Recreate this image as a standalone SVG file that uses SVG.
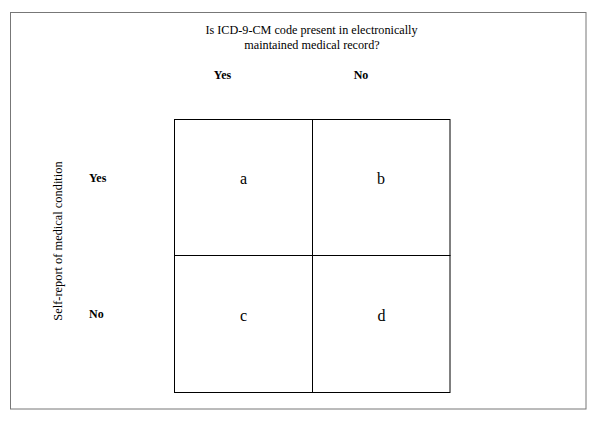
<svg xmlns="http://www.w3.org/2000/svg" width="600" height="425" viewBox="0 0 600 425">
<style>
text{font-family:'Liberation Serif','Times New Roman',Times,serif;font-size:12px;fill:#000}
.b{font-weight:bold}
.c{text-anchor:middle}
.L{font-size:16px}
.cell{fill:none;stroke:#000;stroke-width:1}
</style>
<rect width="600" height="425" fill="#fff"/>
<rect x="10.5" y="12.5" width="575.5" height="396.5" fill="none" stroke="#777" stroke-width="1"/>
<g id="header">
<text class="c" x="311.5" y="34" style="font-size:12.2px">Is ICD-9-CM code present in electronically</text>
<text class="c" x="312" y="49" style="font-size:12.2px">maintained medical record?</text>
<text class="b c" x="222.5" y="79">Yes</text>
<text class="b c" x="361" y="79">No</text>
</g>
<g id="side">
<text class="c" transform="translate(62,241) rotate(-90)" style="font-size:12.4px">Self-report of medical condition</text>
<text class="b" x="89" y="181.5">Yes</text>
<text class="b" x="89" y="318">No</text>
</g>
<g id="cell-a"><rect class="cell" x="174.5" y="119.5" width="138" height="136"/><text class="c L" x="243.5" y="184">a</text></g>
<g id="cell-b"><rect class="cell" x="312.5" y="119.5" width="137.5" height="136"/><text class="c L" x="381" y="184">b</text></g>
<g id="cell-c"><rect class="cell" x="174.5" y="255.5" width="138" height="137"/><text class="c L" x="243.5" y="320.5">c</text></g>
<g id="cell-d"><rect class="cell" x="312.5" y="255.5" width="137.5" height="137"/><text class="c L" x="381.5" y="320.5">d</text></g>
<g id="connectors"></g>
</svg>
